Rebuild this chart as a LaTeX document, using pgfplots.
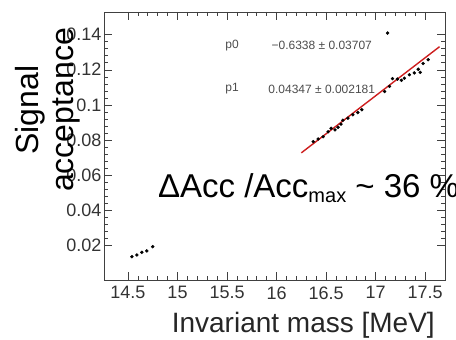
\documentclass[border=0pt]{standalone}
\usepackage{fontspec}
\setmainfont{Liberation Sans}
\usepackage{pgfplots}
\pgfplotsset{compat=1.18}
\definecolor{fitred}{RGB}{205,30,30}
\begin{document}
\begin{tikzpicture}
\begin{axis}[
  scale only axis, width=341pt, height=268pt,
  xmin=14.258, xmax=17.70, ymin=0, ymax=0.153,
  xtick={14.5,15,15.5,16,16.5,17,17.5},
  ytick={0.02,0.04,0.06,0.08,0.1,0.12,0.14},
  minor tick num=4,
  tick align=inside,
  major tick length=8pt, minor tick length=4pt,
  axis line style={black!75, line width=0.8pt},
  every tick/.style={black!75, line width=0.6pt},
  /pgf/number format/assume math mode=true,
  /pgf/number format/fixed,
  ticklabel style={font=\fontsize{18}{18}\selectfont, text=black!80},
  xticklabel style={yshift=-3pt},
  yticklabel style={xshift=1pt},
  clip=false,
]
\addplot[fitred, line width=1.4pt] coordinates {(16.25,0.0726) (17.645,0.1332)};
\addplot[only marks, mark=*, mark size=1.5pt, black] coordinates {
(14.54,0.0133) (14.59,0.0143) (14.64,0.0158) (14.69,0.0166) (14.75,0.0190)
(16.37,0.0790) (16.42,0.0805) (16.47,0.0818) (16.52,0.0846) (16.55,0.0866)
(16.59,0.0857) (16.62,0.0872) (16.65,0.0890) (16.67,0.0912) (16.72,0.0924)
(16.77,0.0943) (16.82,0.0956) (16.86,0.0972)
(17.09,0.1076) (17.14,0.1105) (17.17,0.1150) (17.22,0.1147) (17.26,0.1140)
(17.29,0.1152) (17.34,0.1172) (17.39,0.1182) (17.43,0.1203) (17.45,0.1185)
(17.48,0.1236) (17.53,0.1258)
(17.12,0.1410)
};
\node[anchor=west, font=\fontsize{12}{12}\selectfont, text=black!70] at (axis cs:15.448,0.1337) {p0};
\node[font=\fontsize{12}{12}\selectfont, text=black!70] at (axis cs:16.456,0.1337) {−0.6338 ± 0.03707};
\node[anchor=west, font=\fontsize{12}{12}\selectfont, text=black!70] at (axis cs:15.448,0.1091) {p1};
\node[font=\fontsize{12}{12}\selectfont, text=black!70] at (axis cs:16.456,0.1091) {0.04347 ± 0.002181};
\node[anchor=base west, inner sep=0pt, font=\fontsize{33}{33}\selectfont] at (axis cs:14.802,0.0469) {ΔAcc /Acc\raisebox{-5pt}{\fontsize{20}{20}\selectfont max} \textasciitilde{} 36 \%};
\end{axis}
\node[anchor=base east, inner sep=0pt, font=\fontsize{28}{28}\selectfont, text=black!85] at ([shift={(-10pt,-53pt)}]current axis.south east) {Invariant mass [MeV]};
\node[rotate=90, align=center, inner sep=0pt, font=\fontsize{32}{35}\selectfont] at ([shift={(-56pt,-98pt)}]current axis.north west) {Signal\\acceptance};
\pgfresetboundingbox
\path[use as bounding box] ([shift={(-104pt,-60pt)}]current axis.south west) rectangle ([shift={(11pt,12pt)}]current axis.north east);
\end{tikzpicture}
\end{document}
